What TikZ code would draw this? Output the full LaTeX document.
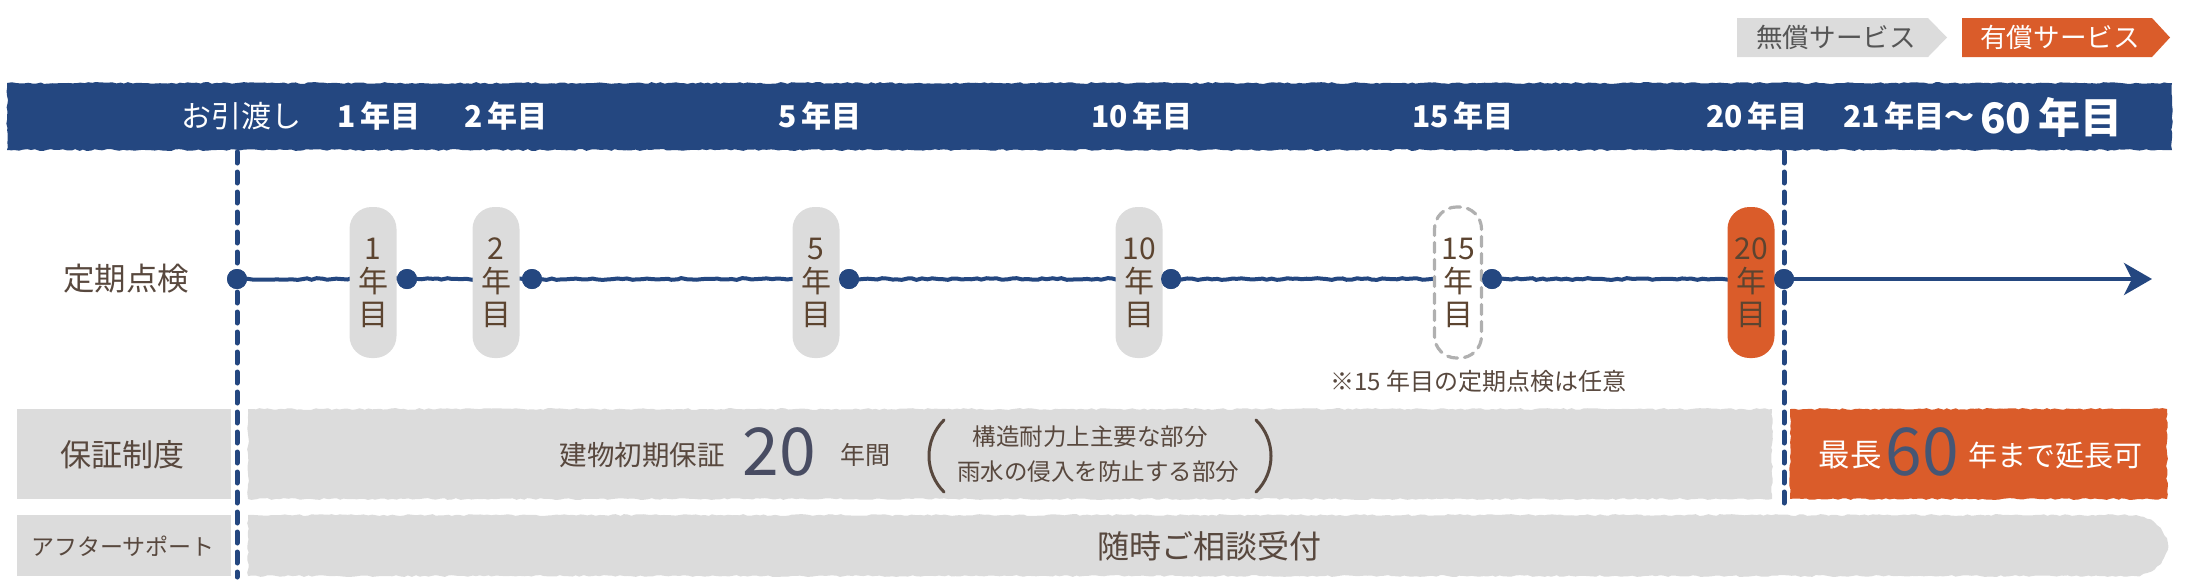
\documentclass[tikz,border=0pt]{standalone}
\usepackage{fontspec}
\usetikzlibrary{decorations.pathmorphing,arrows.meta}
\newfontfamily\jp{Noto Sans CJK JP}
\definecolor{navy}{RGB}{36,71,128}
\definecolor{lgray}{RGB}{220,220,220}
\definecolor{org}{RGB}{218,92,42}
\definecolor{txt}{RGB}{88,72,62}
\definecolor{ptxt}{RGB}{92,68,48}
\definecolor{lgtxt}{RGB}{85,85,85}
\definecolor{numfill}{RGB}{72,76,98}
\definecolor{numfillb}{RGB}{70,86,116}
\definecolor{dgray}{RGB}{176,176,176}
\newcommand{\myfs}[1]{\fontsize{#1}{#1}\selectfont}
\begin{document}
\begin{tikzpicture}[x=0.5pt,y=-0.5pt,
  rough/.style={decorate,decoration={random steps,segment length=2pt,amplitude=0.45pt}},
  wob/.style={decorate,decoration={random steps,segment length=2.5pt,amplitude=0.45pt}},
  lbl/.style={inner sep=0pt,text=txt,font=\jp\myfs{15.75}},
  hdr/.style={inner sep=0pt,text=white,font=\jp\bfseries\myfs{15}},
  pillbox/.style={rectangle,rounded corners=11pt,minimum width=23.5pt,minimum height=75.5pt,
     inner sep=0pt,fill=lgray,align=center,text=ptxt,font=\jp\fontsize{15}{16.5}\selectfont},
  dot/.style={circle,fill=navy,minimum size=10pt,inner sep=0pt},
  tline/.style={draw=navy,line width=2pt},
  vdash/.style={draw=navy,line width=2.5pt,dash pattern=on 5.5pt off 4.5pt,line cap=round},
  bignum/.style={inner sep=0pt,font=\jp\myfs{33}},
  paren/.style={draw=txt,line width=1.5pt,line cap=round}
]
\pgfmathsetseed{7}
\useasboundingbox (0,0) rectangle (2196,586);

% legend
\fill[lgray] (1737,18) -- (1928,18) -- (1947,37.5) -- (1928,57) -- (1737,57) -- cycle;
\node[inner sep=0pt,text=lgtxt,font=\jp\myfs{13.3}] (lg1) at (1836,37.5) {無償サービス};
\fill[org] (1962,18) -- (2152,18) -- (2170,37.5) -- (2152,57) -- (1962,57) -- cycle;
\node[inner sep=0pt,text=white,font=\jp\myfs{13.3}] (lg2) at (2060,37.5) {有償サービス};

% header band
\fill[navy,rough] (7,83) rectangle (2172,150);
\node[hdr,font=\jp\myfs{15}] (h0) at (241,116) {お引渡し};
\node[hdr] (h1) at (379,116) {1\,年目};
\node[hdr] (h2) at (506,116) {2\,年目};
\node[hdr] (h5) at (820,116) {5\,年目};
\node[hdr] (h10) at (1142,116) {10\,年目};
\node[hdr] (h15) at (1463,116) {15\,年目};
\node[hdr] (h20) at (1757,116) {20\,年目};
\node[hdr,anchor=east] (h21) at (1975,116) {21\,年目～};
\node[hdr,anchor=west,font=\jp\bfseries\myfs{21}] (h60) at (1980,117) {60\,年目};

% rows
\fill[lgray] (17,409) rectangle (231,499);
\fill[lgray,rough] (248,409) rectangle (1772,499);
\fill[org,rough] (1790,409) rectangle (2167,499);
\fill[lgray] (17,515) rectangle (231,576);
\fill[lgray,rough] (248,515) -- (2136,515) .. controls (2156,518) and (2168,535) .. (2168,546)
   .. controls (2168,557) and (2156,574) .. (2136,576) -- (248,576) -- cycle;

% dashed verticals
\coordinate (v1t) at (237,152);
\coordinate (v1b) at (237,577);
\coordinate (v2t) at (1784,152);
\coordinate (v2b) at (1784,503);
\draw[vdash] (v1t) -- (v1b);
\draw[vdash] (v2t) -- (v2b);

% timeline
\node[dot] (d0) at (237,279) {};
\node[dot] (d1) at (407,279) {};
\node[dot] (d2) at (532,279) {};
\node[dot] (d5) at (849,279) {};
\node[dot] (d10) at (1171,279) {};
\node[dot] (d15) at (1492,279) {};
\node[dot] (d20) at (1784,279) {};
\coordinate (tend) at (2152,279);
\draw[tline,wob] (d0.center) -- (d20.center);
\draw[tline,-{Stealth[length=14pt,width=16pt,inset=4pt]}] (d20.center) -- (tend);

% pills
\node[pillbox] (p1) at (373,282.5) {1\\年\\目};
\node[pillbox] (p2) at (496,282.5) {2\\年\\目};
\node[pillbox] (p5) at (816,282.5) {5\\年\\目};
\node[pillbox] (p10) at (1139,282.5) {10\\年\\目};
\node[pillbox,fill=white,draw=dgray,line width=1.6pt,dash pattern=on 5pt off 3.5pt,line cap=round] (p15) at (1458,282.5) {15\\年\\目};
\node[pillbox,fill=org] (p20) at (1751,282.5) {20\\年\\目};

% redraw dots on top
\foreach \d in {d0,d1,d2,d5,d10,d15,d20} {\fill[navy] (\d.center) circle[radius=10];}

% labels
\node[lbl] (l1) at (126,279) {定期点検};
\node[lbl,font=\jp\myfs{12}] (note) at (1478,381) {※15 年目の定期点検は任意};
\node[lbl,font=\jp\myfs{15.5}] (l2) at (123,455) {保証制度};
\node[lbl,font=\jp\myfs{11.5}] (l3) at (123,546) {アフターサポート};

% row 2 texts
\node[lbl,font=\jp\myfs{13.75}] (w1) at (642,455) {建物初期保証};
\node[bignum,text=numfill] (n20) at (779,452) {20};
\node[lbl,font=\jp\myfs{12.5}] (w2) at (865,455) {年間};
\draw[paren] (944,420) .. controls (924,440) and (924,472) .. (944,492);
\node[lbl,font=\jp\myfs{11.75}] (w3) at (1090,437) {構造耐力上主要な部分};
\node[lbl,font=\jp\myfs{11.75}] (w4) at (1098,472) {雨水の侵入を防止する部分};
\draw[paren] (1256,420) .. controls (1276,440) and (1276,472) .. (1256,492);

\node[lbl,text=white,font=\jp\myfs{15.75}] (o1) at (1850,455) {最長};
\node[bignum,text=numfillb] (n60) at (1922,452) {60};
\node[lbl,text=white,font=\jp\myfs{14.5}] (o2) at (2055,455) {年まで延長可};

% row 3
\node[lbl,font=\jp\myfs{16}] (r3) at (1209,546) {随時ご相談受付};
\end{tikzpicture}
\end{document}
